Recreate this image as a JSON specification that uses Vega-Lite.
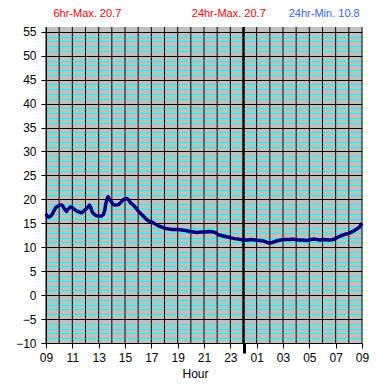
{
  "$schema": "https://vega.github.io/schema/vega-lite/v6.json",
  "autosize": {"type": "none"},
  "width": 316,
  "height": 316,
  "padding": {"left": 46, "top": 27, "right": 23, "bottom": 45},
  "background": "white",
  "config": {
    "view": {"fill": "#C0C0C0", "stroke": null},
    "font": "Liberation Sans",
    "axis": {"labelFont": "Liberation Sans", "titleFont": "Liberation Sans", "labelColor": "black", "titleColor": "black", "domainColor": "black", "tickColor": "black"}
  },
  "datasets": {
    "temps": [
      {"h": 0.0, "t": 17.0}, {"h": 0.1, "t": 16.4}, {"h": 0.2, "t": 16.3}, {"h": 0.35, "t": 16.5},
      {"h": 0.5, "t": 17.0}, {"h": 0.6, "t": 17.6}, {"h": 0.75, "t": 18.3}, {"h": 0.9, "t": 18.6},
      {"h": 1.05, "t": 18.8}, {"h": 1.2, "t": 18.8}, {"h": 1.3, "t": 18.5}, {"h": 1.45, "t": 17.8},
      {"h": 1.55, "t": 17.5}, {"h": 1.7, "t": 18.0}, {"h": 1.85, "t": 18.4}, {"h": 2.0, "t": 18.3},
      {"h": 2.15, "t": 17.9}, {"h": 2.3, "t": 17.6}, {"h": 2.5, "t": 17.4}, {"h": 2.7, "t": 17.2},
      {"h": 2.85, "t": 17.5}, {"h": 3.0, "t": 17.9}, {"h": 3.15, "t": 18.3}, {"h": 3.3, "t": 18.8},
      {"h": 3.4, "t": 18.3}, {"h": 3.5, "t": 17.4}, {"h": 3.65, "t": 16.9}, {"h": 3.8, "t": 16.6},
      {"h": 4.0, "t": 16.5}, {"h": 4.2, "t": 16.5}, {"h": 4.35, "t": 16.8}, {"h": 4.45, "t": 17.6},
      {"h": 4.55, "t": 19.2}, {"h": 4.65, "t": 20.2}, {"h": 4.72, "t": 20.6}, {"h": 4.8, "t": 20.0},
      {"h": 4.95, "t": 19.6}, {"h": 5.1, "t": 18.9}, {"h": 5.3, "t": 18.8}, {"h": 5.5, "t": 18.9},
      {"h": 5.7, "t": 19.4}, {"h": 5.85, "t": 19.9}, {"h": 6.0, "t": 20.1}, {"h": 6.15, "t": 20.2},
      {"h": 6.3, "t": 19.8}, {"h": 6.45, "t": 19.2}, {"h": 6.6, "t": 18.9}, {"h": 6.8, "t": 18.3},
      {"h": 7.0, "t": 17.6}, {"h": 7.2, "t": 17.0}, {"h": 7.4, "t": 16.5}, {"h": 7.6, "t": 15.9},
      {"h": 7.8, "t": 15.5}, {"h": 8.0, "t": 15.3}, {"h": 8.2, "t": 15.0}, {"h": 8.4, "t": 14.7},
      {"h": 8.6, "t": 14.4}, {"h": 8.8, "t": 14.2}, {"h": 9.0, "t": 14.0}, {"h": 9.3, "t": 13.8},
      {"h": 9.6, "t": 13.7}, {"h": 10.0, "t": 13.7}, {"h": 10.3, "t": 13.6}, {"h": 10.6, "t": 13.5},
      {"h": 10.9, "t": 13.3}, {"h": 11.2, "t": 13.2}, {"h": 11.5, "t": 13.1}, {"h": 11.8, "t": 13.2},
      {"h": 12.1, "t": 13.2}, {"h": 12.4, "t": 13.3}, {"h": 12.7, "t": 13.2}, {"h": 12.9, "t": 13.0},
      {"h": 13.1, "t": 12.6}, {"h": 13.4, "t": 12.4}, {"h": 13.7, "t": 12.2}, {"h": 14.0, "t": 12.0},
      {"h": 14.3, "t": 11.8}, {"h": 14.6, "t": 11.7}, {"h": 15.0, "t": 11.5}, {"h": 15.3, "t": 11.5},
      {"h": 15.6, "t": 11.6}, {"h": 15.9, "t": 11.5}, {"h": 16.2, "t": 11.4}, {"h": 16.5, "t": 11.3},
      {"h": 16.8, "t": 11.0}, {"h": 17.0, "t": 10.9}, {"h": 17.2, "t": 11.0}, {"h": 17.5, "t": 11.3},
      {"h": 17.8, "t": 11.5}, {"h": 18.1, "t": 11.6}, {"h": 18.5, "t": 11.6}, {"h": 18.8, "t": 11.7},
      {"h": 19.1, "t": 11.5}, {"h": 19.5, "t": 11.5}, {"h": 19.8, "t": 11.4}, {"h": 20.1, "t": 11.6},
      {"h": 20.4, "t": 11.7}, {"h": 20.8, "t": 11.5}, {"h": 21.1, "t": 11.6}, {"h": 21.5, "t": 11.5},
      {"h": 21.8, "t": 11.6}, {"h": 22.1, "t": 12.0}, {"h": 22.4, "t": 12.4}, {"h": 22.7, "t": 12.7},
      {"h": 23.0, "t": 12.9}, {"h": 23.3, "t": 13.3}, {"h": 23.6, "t": 13.8}, {"h": 23.8, "t": 14.2},
      {"h": 24.0, "t": 15.0}
    ],
    "hours": [
      {"h": 0}, {"h": 1}, {"h": 2}, {"h": 3}, {"h": 4}, {"h": 5}, {"h": 6}, {"h": 7}, {"h": 8},
      {"h": 9}, {"h": 10}, {"h": 11}, {"h": 12}, {"h": 13}, {"h": 14}, {"h": 15}, {"h": 16},
      {"h": 17}, {"h": 18}, {"h": 19}, {"h": 20}, {"h": 21}, {"h": 22}, {"h": 23}, {"h": 24}
    ]
  },
  "layer": [
    {
      "data": {"name": "hours"},
      "mark": {"type": "rule", "color": "black"},
      "encoding": {
        "x": {"field": "h", "type": "quantitative",
          "scale": {"domain": [0, 24], "nice": false, "zero": false},
          "axis": {"title": "Hour", "titleFontSize": 12, "titleFontWeight": "normal", "titleX": 149, "titleY": 30, "titleAlign": "center", "titleBaseline": "middle",
            "values": [0, 2, 4, 6, 8, 10, 12, 14, 15, 16, 18, 20, 22, 24],
            "labelExpr": "datum.value == 15 ? '' : (((9 + datum.value) % 24) < 10 ? '0' : '') + ((9 + datum.value) % 24)",
            "labelFontSize": 12, "labelPadding": 4, "labelFlush": false, "labelOverlap": false, "grid": false,
            "tickSize": {"condition": {"test": "datum.value == 15", "value": 10}, "value": 5},
            "tickWidth": {"condition": {"test": "datum.value == 15", "value": 3}, "value": 1}}},
        "strokeWidth": {"condition": {"test": "datum.h == 15", "value": 2.5}, "value": 1}
      }
    },
    {
      "data": {"name": "temps"},
      "mark": {"type": "line", "color": "#000080", "strokeWidth": 3.5, "strokeJoin": "round"},
      "encoding": {
        "x": {"field": "h", "type": "quantitative",
          "scale": {"domain": [0, 24], "nice": false, "zero": false},
          "axis": {"title": "Hour", "titleFontSize": 12, "titleFontWeight": "normal", "titleX": 149, "titleY": 30, "titleAlign": "center", "titleBaseline": "middle",
            "values": [0, 2, 4, 6, 8, 10, 12, 14, 15, 16, 18, 20, 22, 24],
            "labelExpr": "datum.value == 15 ? '' : (((9 + datum.value) % 24) < 10 ? '0' : '') + ((9 + datum.value) % 24)",
            "labelFontSize": 12, "labelPadding": 4, "labelFlush": false, "labelOverlap": false, "grid": false,
            "tickSize": {"condition": {"test": "datum.value == 15", "value": 10}, "value": 5},
            "tickWidth": {"condition": {"test": "datum.value == 15", "value": 3}, "value": 1}}},
        "y": {"field": "t", "type": "quantitative",
          "scale": {"domain": [-10, 56], "nice": false, "zero": false},
          "axis": {"title": null,
            "values": [-10, -9, -8, -7, -6, -5, -4, -3, -2, -1, 0, 1, 2, 3, 4, 5, 6, 7, 8, 9, 10, 11, 12, 13, 14, 15, 16, 17, 18, 19, 20, 21, 22, 23, 24, 25, 26, 27, 28, 29, 30, 31, 32, 33, 34, 35, 36, 37, 38, 39, 40, 41, 42, 43, 44, 45, 46, 47, 48, 49, 50, 51, 52, 53, 54, 55],
            "labelExpr": "datum.value % 5 == 0 ? datum.label : ''",
            "labelFontSize": 12, "labelPadding": 5, "labelFlush": false, "labelOverlap": false, "tickSize": 5,
            "tickOpacity": {"condition": {"test": "datum.value % 5 == 0", "value": 1}, "value": 0},
            "grid": true,
            "gridColor": {"condition": {"test": "datum.value % 5 == 0", "value": "black"}, "value": "#00FFFF"},
            "gridOpacity": 1, "gridWidth": 1}}
      }
    },
    {
      "data": {"values": [{"label": "6hr-Max. 20.7"}, {"label": "24hr-Max. 20.7"}, {"label": "24hr-Min. 10.8"}]},
      "transform": [{"filter": "datum.label == '6hr-Max. 20.7'"}],
      "mark": {"type": "text", "color": "#FF0000", "fontSize": 11, "font": "Liberation Sans", "align": "center", "baseline": "middle"},
      "encoding": {
        "x": {"datum": 3.14, "type": "quantitative",
          "scale": {"domain": [0, 24], "nice": false, "zero": false},
          "axis": {"title": "Hour", "titleFontSize": 12, "titleFontWeight": "normal", "titleX": 149, "titleY": 30, "titleAlign": "center", "titleBaseline": "middle",
            "values": [0, 2, 4, 6, 8, 10, 12, 14, 15, 16, 18, 20, 22, 24],
            "labelExpr": "datum.value == 15 ? '' : (((9 + datum.value) % 24) < 10 ? '0' : '') + ((9 + datum.value) % 24)",
            "labelFontSize": 12, "labelPadding": 4, "labelFlush": false, "labelOverlap": false, "grid": false,
            "tickSize": {"condition": {"test": "datum.value == 15", "value": 10}, "value": 5},
            "tickWidth": {"condition": {"test": "datum.value == 15", "value": 3}, "value": 1}}},
        "y": {"datum": 58.65, "type": "quantitative",
          "scale": {"domain": [-10, 56], "nice": false, "zero": false},
          "axis": {"title": null,
            "values": [-10, -9, -8, -7, -6, -5, -4, -3, -2, -1, 0, 1, 2, 3, 4, 5, 6, 7, 8, 9, 10, 11, 12, 13, 14, 15, 16, 17, 18, 19, 20, 21, 22, 23, 24, 25, 26, 27, 28, 29, 30, 31, 32, 33, 34, 35, 36, 37, 38, 39, 40, 41, 42, 43, 44, 45, 46, 47, 48, 49, 50, 51, 52, 53, 54, 55],
            "labelExpr": "datum.value % 5 == 0 ? datum.label : ''",
            "labelFontSize": 12, "labelPadding": 5, "labelFlush": false, "labelOverlap": false, "tickSize": 5,
            "tickOpacity": {"condition": {"test": "datum.value % 5 == 0", "value": 1}, "value": 0},
            "grid": true,
            "gridColor": {"condition": {"test": "datum.value % 5 == 0", "value": "black"}, "value": "#00FFFF"},
            "gridOpacity": 1, "gridWidth": 1}},
        "text": {"field": "label", "type": "nominal"}
      }
    },
    {
      "data": {"values": [{"label": "6hr-Max. 20.7"}, {"label": "24hr-Max. 20.7"}, {"label": "24hr-Min. 10.8"}]},
      "transform": [{"filter": "datum.label == '24hr-Max. 20.7'"}],
      "mark": {"type": "text", "color": "#FF0000", "fontSize": 11, "font": "Liberation Sans", "align": "center", "baseline": "middle"},
      "encoding": {
        "x": {"datum": 13.88, "type": "quantitative",
          "scale": {"domain": [0, 24], "nice": false, "zero": false},
          "axis": {"title": "Hour", "titleFontSize": 12, "titleFontWeight": "normal", "titleX": 149, "titleY": 30, "titleAlign": "center", "titleBaseline": "middle",
            "values": [0, 2, 4, 6, 8, 10, 12, 14, 15, 16, 18, 20, 22, 24],
            "labelExpr": "datum.value == 15 ? '' : (((9 + datum.value) % 24) < 10 ? '0' : '') + ((9 + datum.value) % 24)",
            "labelFontSize": 12, "labelPadding": 4, "labelFlush": false, "labelOverlap": false, "grid": false,
            "tickSize": {"condition": {"test": "datum.value == 15", "value": 10}, "value": 5},
            "tickWidth": {"condition": {"test": "datum.value == 15", "value": 3}, "value": 1}}},
        "y": {"datum": 58.65, "type": "quantitative",
          "scale": {"domain": [-10, 56], "nice": false, "zero": false},
          "axis": {"title": null,
            "values": [-10, -9, -8, -7, -6, -5, -4, -3, -2, -1, 0, 1, 2, 3, 4, 5, 6, 7, 8, 9, 10, 11, 12, 13, 14, 15, 16, 17, 18, 19, 20, 21, 22, 23, 24, 25, 26, 27, 28, 29, 30, 31, 32, 33, 34, 35, 36, 37, 38, 39, 40, 41, 42, 43, 44, 45, 46, 47, 48, 49, 50, 51, 52, 53, 54, 55],
            "labelExpr": "datum.value % 5 == 0 ? datum.label : ''",
            "labelFontSize": 12, "labelPadding": 5, "labelFlush": false, "labelOverlap": false, "tickSize": 5,
            "tickOpacity": {"condition": {"test": "datum.value % 5 == 0", "value": 1}, "value": 0},
            "grid": true,
            "gridColor": {"condition": {"test": "datum.value % 5 == 0", "value": "black"}, "value": "#00FFFF"},
            "gridOpacity": 1, "gridWidth": 1}},
        "text": {"field": "label", "type": "nominal"}
      }
    },
    {
      "data": {"values": [{"label": "6hr-Max. 20.7"}, {"label": "24hr-Max. 20.7"}, {"label": "24hr-Min. 10.8"}]},
      "transform": [{"filter": "datum.label == '24hr-Min. 10.8'"}],
      "mark": {"type": "text", "color": "#3366FF", "fontSize": 11, "font": "Liberation Sans", "align": "center", "baseline": "middle"},
      "encoding": {
        "x": {"datum": 21.13, "type": "quantitative",
          "scale": {"domain": [0, 24], "nice": false, "zero": false},
          "axis": {"title": "Hour", "titleFontSize": 12, "titleFontWeight": "normal", "titleX": 149, "titleY": 30, "titleAlign": "center", "titleBaseline": "middle",
            "values": [0, 2, 4, 6, 8, 10, 12, 14, 15, 16, 18, 20, 22, 24],
            "labelExpr": "datum.value == 15 ? '' : (((9 + datum.value) % 24) < 10 ? '0' : '') + ((9 + datum.value) % 24)",
            "labelFontSize": 12, "labelPadding": 4, "labelFlush": false, "labelOverlap": false, "grid": false,
            "tickSize": {"condition": {"test": "datum.value == 15", "value": 10}, "value": 5},
            "tickWidth": {"condition": {"test": "datum.value == 15", "value": 3}, "value": 1}}},
        "y": {"datum": 58.65, "type": "quantitative",
          "scale": {"domain": [-10, 56], "nice": false, "zero": false},
          "axis": {"title": null,
            "values": [-10, -9, -8, -7, -6, -5, -4, -3, -2, -1, 0, 1, 2, 3, 4, 5, 6, 7, 8, 9, 10, 11, 12, 13, 14, 15, 16, 17, 18, 19, 20, 21, 22, 23, 24, 25, 26, 27, 28, 29, 30, 31, 32, 33, 34, 35, 36, 37, 38, 39, 40, 41, 42, 43, 44, 45, 46, 47, 48, 49, 50, 51, 52, 53, 54, 55],
            "labelExpr": "datum.value % 5 == 0 ? datum.label : ''",
            "labelFontSize": 12, "labelPadding": 5, "labelFlush": false, "labelOverlap": false, "tickSize": 5,
            "tickOpacity": {"condition": {"test": "datum.value % 5 == 0", "value": 1}, "value": 0},
            "grid": true,
            "gridColor": {"condition": {"test": "datum.value % 5 == 0", "value": "black"}, "value": "#00FFFF"},
            "gridOpacity": 1, "gridWidth": 1}},
        "text": {"field": "label", "type": "nominal"}
      }
    }
  ]
}
